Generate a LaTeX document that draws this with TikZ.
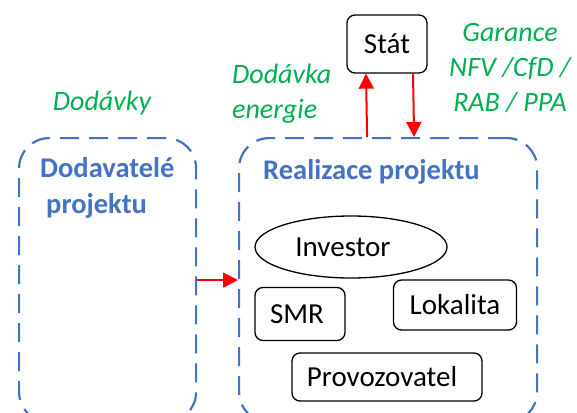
\documentclass[tikz,border=0pt]{standalone}
\usepackage{fontspec}
\setmainfont{Carlito}
\usetikzlibrary{arrows.meta,shapes.geometric}

\definecolor{boxblue}{HTML}{4472C4}
\definecolor{labelgreen}{HTML}{00B050}

\begin{document}
\begin{tikzpicture}[x=1pt,y=-1pt,
    group/.style={draw=boxblue,line width=2.2pt,dash pattern=on 19pt off 10pt,rounded corners=30pt},
    title/.style={font=\fontsize{28.5}{33}\selectfont\bfseries,text=boxblue,align=left,anchor=north west,inner sep=0pt},
    part/.style={draw,line width=1.3pt,rounded corners=8pt,font=\fontsize{29}{33}\selectfont,inner sep=0pt},
    flow/.style={font=\fontsize{28}{35}\selectfont\itshape,text=labelgreen,inner sep=0pt},
    link/.style={red,line width=2pt,-{Triangle[length=15pt,width=15pt]}}]
  \useasboundingbox (0,0) rectangle (577,412);
  % groups
  \node[group,minimum width=177pt,minimum height=284pt,anchor=north west] (supplier box) at (18,137) {};
  \node[group,minimum width=298pt,minimum height=284pt,anchor=north west] (project box) at (238,137) {};
  \node[title] (supplier title) at (40,157) {Dodavatelé\\[3pt]\hspace*{6pt}projektu};
  \node[title] (project title) at (263,159) {Realizace projektu};
  % parts of the project
  \node[part,minimum width=80pt,minimum height=58pt] (state) at (387,44) {Stát};
  \node[part,ellipse,rounded corners=0pt,minimum width=192pt,minimum height=62pt] (investor) at (351,247) {Investor\hspace*{16pt}};
  \node[part,minimum width=90pt,minimum height=53pt] (smr) at (300,314) {SMR\hspace*{6pt}};
  \node[part,minimum width=123pt,minimum height=50pt] (site) at (455,305) {Lokalita};
  \node[part,minimum width=190pt,minimum height=48pt] (operator) at (387,377) {Provozovatel\hspace*{10pt}};
  % flows
  \node[flow] (deliveries) at (102,103) {Dodávky};
  \node[flow,align=left,anchor=west] (energy) at (232,94) {Dodávka\\energie};
  \node[flow,align=center] (guarantee) at (510,68) {Garance\\NFV /CfD /\\RAB / PPA};
  \draw[link] (supplier box.east) -- (project box.west);
  \draw[link] ([xshift=-21pt]project box.north) -- ([xshift=-21pt]state.south);
  \draw[link] ([xshift=26pt]state.south) -- ([xshift=26pt]project box.north);
\end{tikzpicture}
\end{document}
